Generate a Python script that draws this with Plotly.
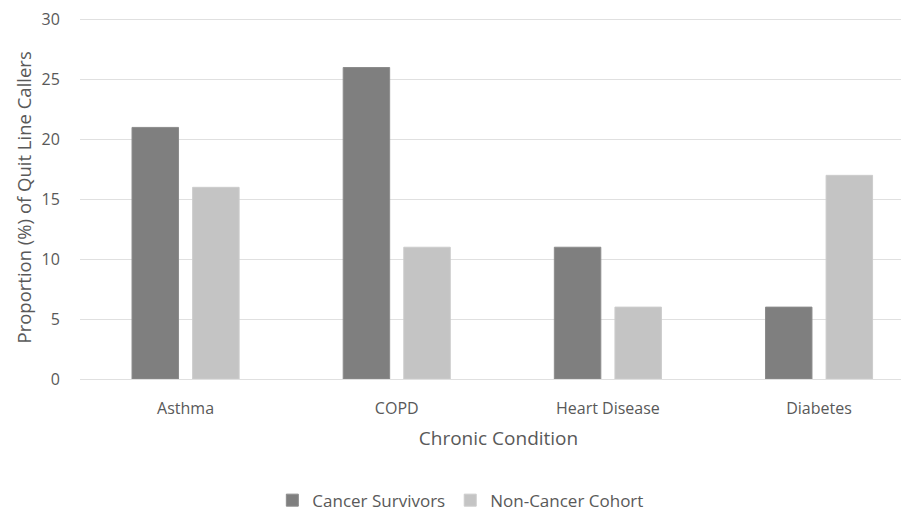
import plotly.graph_objects as go

categories = ["Asthma", "COPD", "Heart Disease", "Diabetes"]
cancer_survivors = [21, 26, 11, 6]
non_cancer_cohort = [16, 11, 6, 17]
y_ticks = [0, 5, 10, 15, 20, 25, 30]

FONT = "Open Sans"
TXT = "#595959"

fig = go.Figure()
fig.add_trace(go.Bar(
    name="Cancer Survivors", x=categories, y=cancer_survivors,
    marker=dict(color="#7f7f7f", line=dict(color="#8c8c8c", width=1)),
))
fig.add_trace(go.Bar(
    name="Non-Cancer Cohort", x=categories, y=non_cancer_cohort,
    marker=dict(color="#c4c4c4", line=dict(color="#cccccc", width=1)),
))

fig.update_layout(
    width=909, height=512,
    margin=dict(l=72, r=0, t=6, b=141),
    paper_bgcolor="white", plot_bgcolor="white",
    barmode="group", bargap=0.426, bargroupgap=0.233,
    font=dict(family=FONT, size=16, color=TXT),
    showlegend=True,
    legend=dict(orientation="h", x=0.455, xanchor="center", y=-0.335, yanchor="middle",
                font=dict(size=17, color=TXT), itemwidth=30, traceorder="normal"),
    xaxis=dict(
        range=[-0.5, 3.464], showgrid=False, showline=False, zeroline=False,
        ticks="outside", ticklen=15, tickcolor="rgba(0,0,0,0)",
        tickfont=dict(size=16, color=TXT),
        title=dict(text="Chronic Condition", font=dict(size=19, color=TXT), standoff=13),
    ),
    yaxis=dict(
        range=[0, 30.3], tickvals=y_ticks, showgrid=True, gridcolor="#e0e0e0", gridwidth=1,
        zeroline=True, zerolinecolor="#e0e0e0", zerolinewidth=1, showline=False,
        ticks="outside", ticklen=16, tickcolor="rgba(0,0,0,0)",
        ticklabeloverflow="allow",
        tickfont=dict(size=16, color=TXT),
    ),
    annotations=[dict(
        text="Proportion (%) of Quit Line Callers", textangle=-90,
        xref="paper", yref="paper", x=0, y=0.5, xanchor="center", yanchor="middle",
        xshift=-57, showarrow=False, font=dict(size=18.5, color=TXT),
    )],
)

fig.write_html("out.html")
